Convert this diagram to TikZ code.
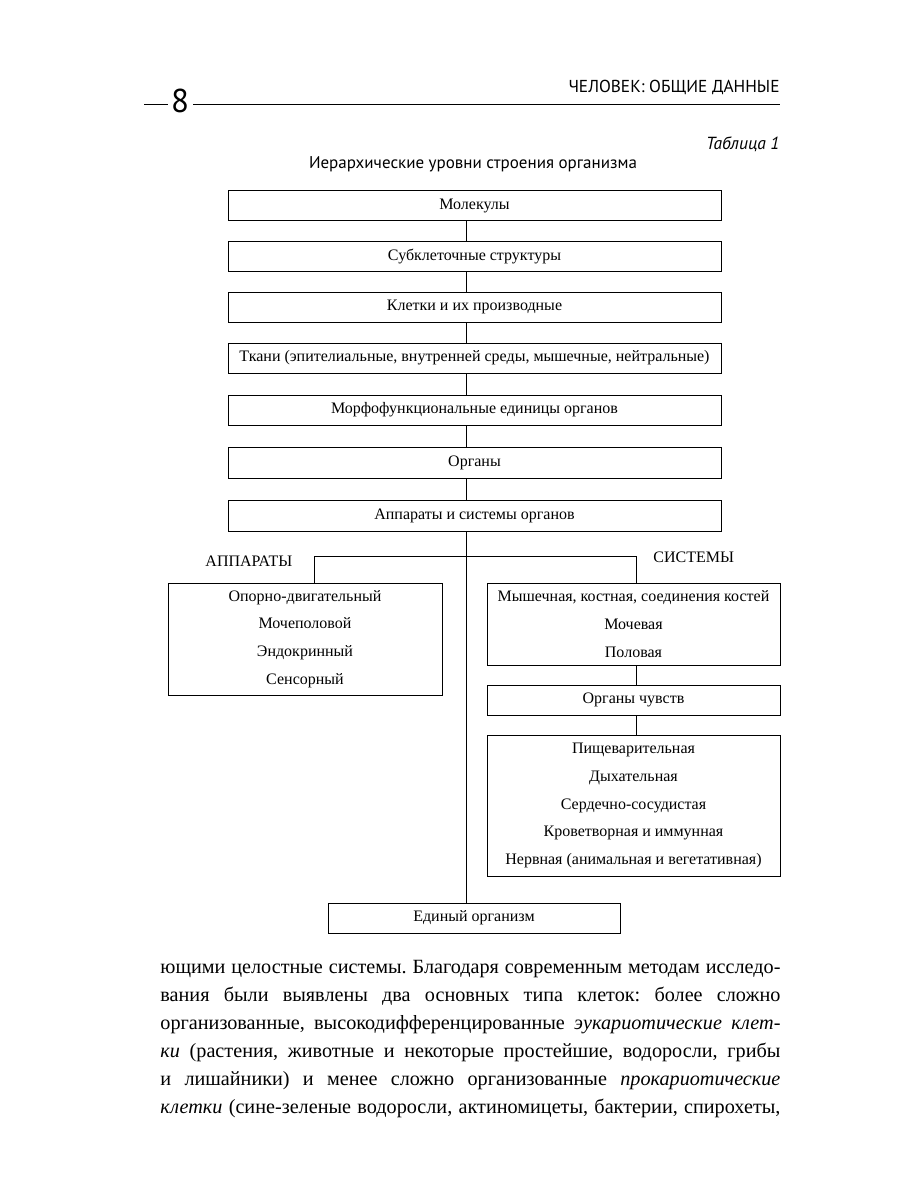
\documentclass[tikz,border=0pt]{standalone}
\usepackage{fontspec}
\setmainfont{Liberation Serif}
\newfontfamily\hsans{PT Sans}
\newcommand\boxfont{\fontsize{16}{27.6}\selectfont}
\newcommand\bodyfont{\fontsize{20.2}{28}\selectfont\frenchspacing}
\begin{document}
\begin{tikzpicture}[x=1pt,y=-1pt,line width=0.9pt,
  box/.style={draw, line width=0.9pt, inner sep=0pt, align=center, font=\boxfont},
  lab/.style={inner sep=0pt, font=\boxfont, anchor=base west},
  bline/.style={inner sep=0pt, font=\bodyfont, anchor=base west}]
\useasboundingbox (0,0) rectangle (900,1200);
\fill[white] (0,0) rectangle (900,1200);

% header
\node[inner sep=0pt, anchor=base east, font=\hsans\fontsize{17.3}{19}\selectfont] (hdr) at (780,92) {ЧЕЛОВЕК: ОБЩИЕ ДАННЫЕ};
\node[inner sep=0pt, anchor=base, font=\hsans\fontsize{33}{36}\selectfont] (pg) at (180,112) {8};
\coordinate (d1) at (144,104);
\coordinate (d2) at (168,104);
\coordinate (r1) at (193,104);
\coordinate (r2) at (780,104);
\draw[line width=0.8pt] (d1) -- (d2);
\draw[line width=0.8pt] (r1) -- (r2);
\node[inner sep=0pt, anchor=base east, font=\hsans\itshape\fontsize{17.5}{19}\selectfont] (tab) at (780,149) {Таблица 1};
\node[inner sep=0pt, anchor=base, font=\hsans\fontsize{17}{19}\selectfont] (ttl) at (473,168) {Иерархические уровни строения организма};

% main column
\node[box, minimum width=493pt, minimum height=30pt] (b1) at (474.5,205.5) {Молекулы};
\node[box, minimum width=493pt, minimum height=30pt] (b2) at (474.5,256) {Субклеточные структуры};
\node[box, minimum width=493pt, minimum height=30pt] (b3) at (474.5,307) {Клетки и их производные};
\node[box, minimum width=493pt, minimum height=30pt] (b4) at (474.5,358) {Ткани (эпителиальные, внутренней среды, мышечные, нейтральные)};
\node[box, minimum width=493pt, minimum height=30pt] (b5) at (474.5,410) {Морфофункциональные единицы органов};
\node[box, minimum width=493pt, minimum height=31pt] (b6) at (474.5,462.5) {Органы};
\node[box, minimum width=493pt, minimum height=31pt] (b7) at (474.5,515.5) {Аппараты и системы органов};
\node[box, minimum width=292pt, minimum height=30pt] (b8) at (474,918) {Единый организм};

\coordinate (ax) at (466,0);
\draw (ax|-b1.south) -- (ax|-b2.north);
\draw (ax|-b2.south) -- (ax|-b3.north);
\draw (ax|-b3.south) -- (ax|-b4.north);
\draw (ax|-b4.south) -- (ax|-b5.north);
\draw (ax|-b5.south) -- (ax|-b6.north);
\draw (ax|-b6.south) -- (ax|-b7.north);
\draw (ax|-b7.south) -- (ax|-b8.north);

% branches
\node[box, minimum width=274pt, minimum height=112pt] (app) at (305,639) {Опорно-двигательный\\Мочеполовой\\Эндокринный\\Сенсорный};
\node[box, minimum width=293pt, minimum height=82pt] (s1) at (633.5,624) {Мышечная, костная, соединения костей\\Мочевая\\Половая};
\node[box, minimum width=293pt, minimum height=30pt] (s2) at (633.5,700) {Органы чувств};
\node[box, minimum width=293pt, minimum height=141pt] (s3) at (633.5,805.5) {Пищеварительная\\Дыхательная\\Сердечно-сосудистая\\Кроветворная и иммунная\\Нервная (анимальная и вегетативная)};

\node[lab] (lapp) at (205,566) {АППАРАТЫ};
\node[lab] (lsys) at (653,562) {СИСТЕМЫ};

\coordinate (lx) at (314,0);
\coordinate (rx) at (636,0);
\coordinate (hy) at (0,556);
\draw (lx|-app.north) -- (lx|-hy) -- (rx|-hy) -- (rx|-s1.north);
\draw (rx|-s1.south) -- (rx|-s2.north);
\draw (rx|-s2.south) -- (rx|-s3.north);

% body text
\node[bline] (t1) at (160,973) {\makebox[620pt][s]{ющими целостные системы. Благодаря современным методам исследо-}};
\node[bline] (t2) at (160,1001) {\makebox[620pt][s]{вания были выявлены два основных типа клеток: более сложно}};
\node[bline] (t3) at (160,1029) {\makebox[620pt][s]{организованные, высокодифференцированные \textit{эукариотические клет-}}};
\node[bline] (t4) at (160,1057) {\makebox[620pt][s]{\textit{ки} (растения, животные и некоторые простейшие, водоросли, грибы}};
\node[bline] (t5) at (160,1085) {\makebox[620pt][s]{и лишайники) и менее сложно организованные \textit{прокариотические}}};
\node[bline] (t6) at (160,1113) {\makebox[620pt][s]{\textit{клетки} (сине-зеленые водоросли, актиномицеты, бактерии, спирохеты,}};
\end{tikzpicture}
\end{document}
